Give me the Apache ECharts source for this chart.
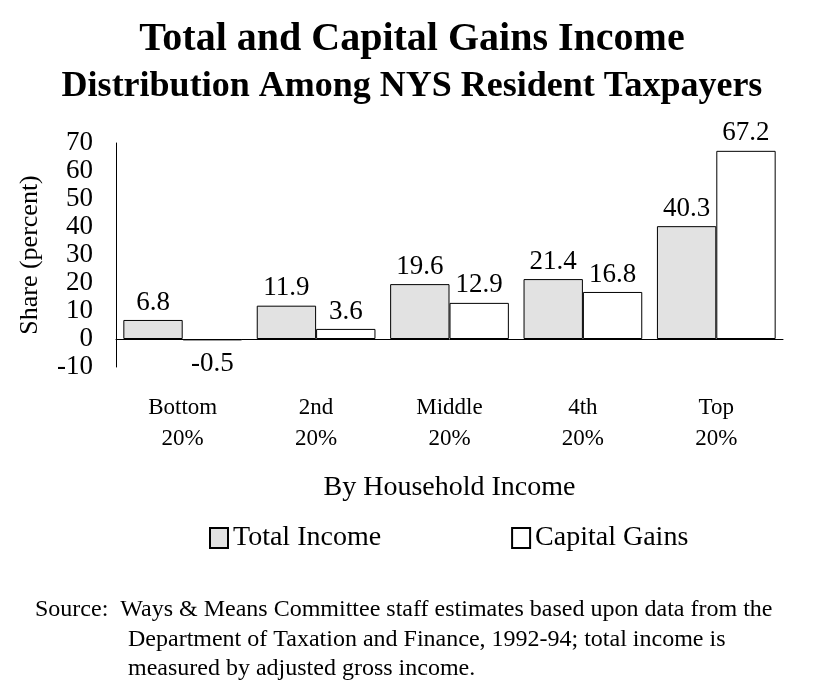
<!DOCTYPE html>
<html>
<head>
<meta charset="utf-8">
<script src="https://cdn.jsdelivr.net/npm/echarts@6/dist/echarts.min.js"></script>
<style>
html,body{margin:0;padding:0;background:#fff;}
#c{width:824px;height:688px;}
</style>
</head>
<body>
<div id="c"></div>
<script>
var categories = ['Bottom\n20%', '2nd\n20%', 'Middle\n20%', '4th\n20%', 'Top\n20%'];
var totalIncome = [6.8, 11.9, 19.6, 21.4, 40.3];
var capitalGains = [-0.5, 3.6, 12.9, 16.8, 67.2];
var seriesNames = ['Total Income', 'Capital Gains'];
var yTicks = [-10, 0, 10, 20, 30, 40, 50, 60, 70];
var sourceLines = [
  'Source:  Ways & Means Committee staff estimates based upon data from the',
  'Department of Taxation and Finance, 1992-94; total income is',
  'measured by adjusted gross income.'
];

var FONT = '"Liberation Serif", "Times New Roman", serif';

function toData(arr) {
  return arr.map(function (v) {
    return v < 0 ? { value: v, label: { position: 'bottom', distance: 10 } } : v;
  });
}

var chart = echarts.init(document.getElementById('c'), null, { renderer: 'canvas' });
var option = {
  backgroundColor: '#fff',
  animation: false,
  title: [
    {
      text: 'Total and Capital Gains Income',
      left: 'center',
      top: 15,
      textStyle: { fontFamily: FONT, fontWeight: 'bold', fontSize: 40, color: '#000' }
    },
    {
      text: 'Distribution Among NYS Resident Taxpayers',
      left: 'center',
      top: 64,
      textStyle: { fontFamily: FONT, fontWeight: 'bold', fontSize: 36, color: '#000' }
    }
  ],
  legend: {
    data: seriesNames,
    left: 204,
    top: 519,
    icon: 'rect',
    itemWidth: 18,
    itemHeight: 20,
    itemGap: 130,
    textStyle: { fontFamily: FONT, fontSize: 28, color: '#000' },
    selectedMode: false
  },
  grid: { left: 116, right: 41, top: 143, bottom: 321, containLabel: false },
  xAxis: {
    type: 'category',
    data: categories,
    axisLine: { show: true, onZero: true, lineStyle: { color: '#000', width: 1 } },
    axisTick: { show: false },
    axisLabel: {
      margin: 25,
      fontFamily: FONT,
      fontSize: 23,
      lineHeight: 31,
      color: '#000'
    },
    name: 'By Household Income',
    nameLocation: 'middle',
    nameGap: 107,
    nameTextStyle: { fontFamily: FONT, fontSize: 28, color: '#000' }
  },
  yAxis: {
    type: 'value',
    min: yTicks[0],
    max: yTicks[yTicks.length - 1],
    interval: 10,
    axisLine: { show: true, lineStyle: { color: '#000', width: 1 } },
    axisTick: { show: false },
    splitLine: { show: false },
    axisLabel: { margin: 23, fontFamily: FONT, fontSize: 27, color: '#000' },
    name: 'Share (percent)',
    nameLocation: 'middle',
    nameGap: 73,
    nameRotate: 90,
    nameTextStyle: { fontFamily: FONT, fontSize: 26, color: '#000' }
  },
  series: [
    {
      name: seriesNames[0],
      type: 'bar',
      data: toData(totalIncome),
      barGap: '0%',
      barCategoryGap: '11%',
      itemStyle: { color: '#e2e2e2', borderColor: '#000', borderWidth: 1 },
      label: { show: true, position: 'top', distance: 4, fontFamily: FONT, fontSize: 27, color: '#000' }
    },
    {
      name: seriesNames[1],
      type: 'bar',
      data: toData(capitalGains),
      itemStyle: { color: '#fff', borderColor: '#000', borderWidth: 1 },
      label: { show: true, position: 'top', distance: 4, fontFamily: FONT, fontSize: 27, color: '#000' }
    }
  ],
  graphic: sourceLines.map(function (t, i) {
    return {
      type: 'text',
      left: i === 0 ? 35 : 128,
      top: 598 + i * 29.5,
      style: { text: t, font: '24px ' + FONT, fill: '#000' }
    };
  })
};
chart.setOption(option);
</script>
</body>
</html>
